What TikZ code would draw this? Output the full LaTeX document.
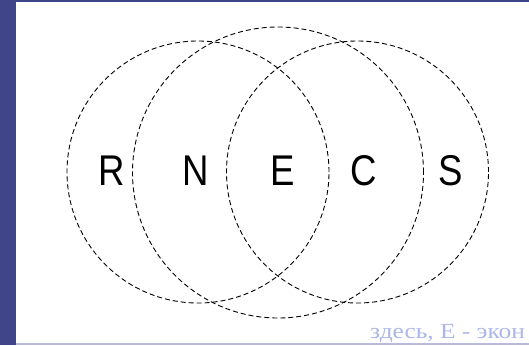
\documentclass[tikz,border=0pt]{standalone}
\usepackage{fontspec}
\setmainfont{Liberation Serif}
\setsansfont{Liberation Sans}
\usepackage{tikz}
\usetikzlibrary{positioning}
\definecolor{bandblue}{RGB}{64,68,136}
\definecolor{rulelav}{RGB}{184,186,222}
\definecolor{notetext}{RGB}{172,182,232}

\begin{document}
\begin{tikzpicture}[
  x=1pt, y=-1pt,
  ring/.style={draw, circle, dash pattern=on 5pt off 3pt, line width=0.9pt, inner sep=0pt},
  letter/.style={font=\sffamily\fontsize{43}{43}\selectfont, inner sep=0pt},
]
\useasboundingbox (0,0) rectangle (529,345);
\clip (0,0) rectangle (529,345);

% ============ Slide frame ============
\fill[bandblue] (0,0) rectangle (529,2);
\fill[bandblue] (0,0) rectangle (16,345);
\fill[rulelav] (16,343) rectangle (529,345);

% ============ Three dashed circles ============
\node[ring, minimum size=262] (lring) at (198,172) {};
\node[ring, minimum size=291] (mring) at (278,172.5) {};
\node[ring, minimum size=262] (rring) at (357.5,172) {};

% ============ Region letters ============
\node[letter] (R) at (111.5,171) {\scalebox{0.85}[1]{R}};
\node[letter] (N) at (196,171) {\scalebox{0.85}[1]{N}};
\node[letter] (E) at (282.5,171) {\scalebox{0.85}[1]{E}};
\node[letter] (C) at (363.5,171) {\scalebox{0.85}[1]{C}};
\node[letter] (S) at (450.5,171) {\scalebox{0.85}[1]{S}};

% ============ Note (cut at the edge) ============
\node[anchor=base west, inner sep=0pt, text=notetext, font=\fontsize{21.5}{21.5}\selectfont] (note) at (370,338) {\scalebox{1.18}[1]{здесь, Е - экон}};

\end{tikzpicture}
\end{document}
